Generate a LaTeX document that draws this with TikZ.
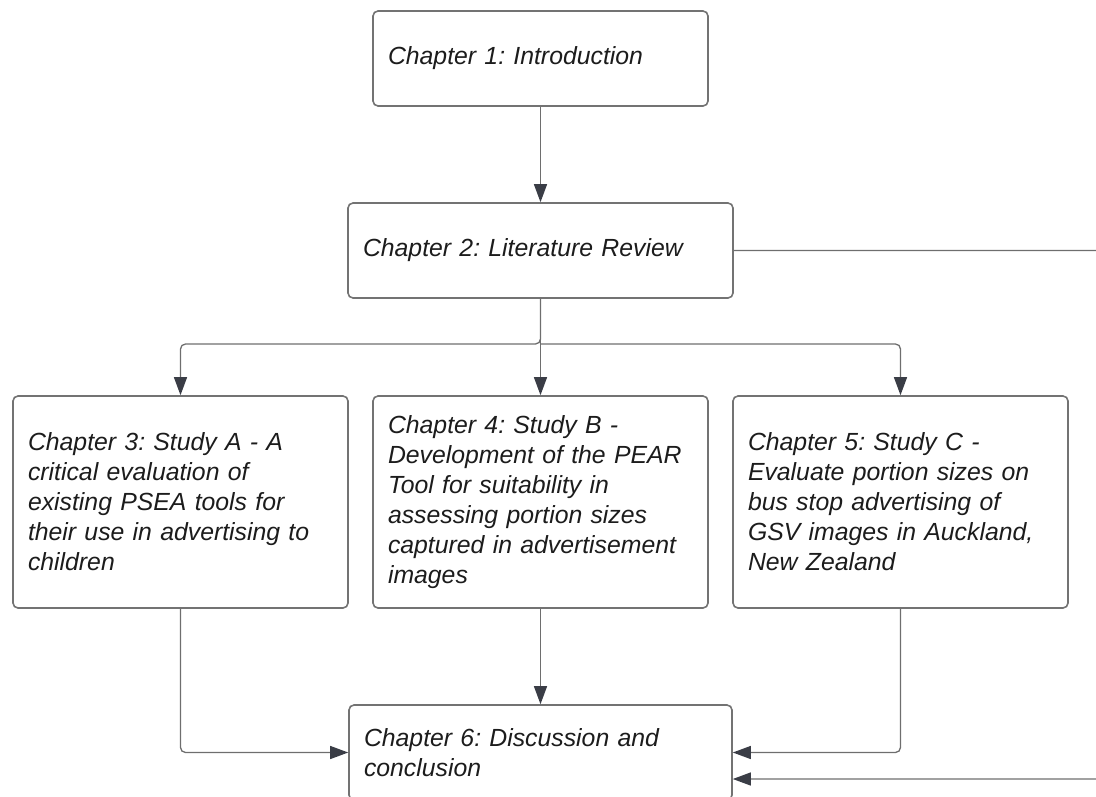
\documentclass[tikz,border=0pt]{standalone}
\usepackage{fontspec}
\setmainfont{Liberation Sans}
\usepackage{tikz}
\usetikzlibrary{arrows.meta,calc}

\definecolor{boxline}{HTML}{737373}
\definecolor{linkline}{HTML}{6E6E6E}
\definecolor{tipdark}{HTML}{3A3D46}
\definecolor{textdark}{HTML}{1C1C1C}

\begin{document}
\frenchspacing
\begin{tikzpicture}[x=1pt,y=-1pt,
    box/.style={draw=boxline, line width=1.6pt, rounded corners=5pt, fill=white,
        align=left, inner xsep=15pt, inner ysep=0pt, text=textdark,
        font=\fontsize{24.8}{30}\selectfont\itshape},
    link/.style={draw=linkline, line width=1.3pt, rounded corners=5pt,
        -{Triangle[length=18pt,width=13pt,color=tipdark]}}]

    % 画布
    \useasboundingbox (0,0) rectangle (1096,796);

    % 第一层
    \node[box, text width=305pt, minimum height=95pt] (intro) at (540.5,58.5)
        {Chapter 1: Introduction};
    \node[box, text width=355pt, minimum height=95pt] (litrev) at (540.5,250.5)
        {Chapter 2: Literature Review};

    % 三个研究
    \node[box, text width=305pt, minimum height=212pt] (studya) at (180.5,502)
        {Chapter 3: Study A - A\\critical evaluation of\\existing PSEA tools for\\their use in advertising to\\children};
    \node[box, text width=305pt, minimum height=212pt] (studyb) at (540.5,502)
        {Chapter 4: Study B -\\Development of the PEAR\\Tool for suitability in\\assessing portion sizes\\captured in advertisement\\images};
    \node[box, text width=305pt, minimum height=212pt] (studyc) at (900.5,502)
        {Chapter 5: Study C -\\Evaluate portion sizes on\\bus stop advertising of\\GSV images in Auckland,\\New Zealand};

    % 结论
    \node[box, text width=353pt, minimum height=95pt] (discuss) at (540.5,752.5)
        {Chapter 6: Discussion and\\conclusion};

    % 分支点
    \coordinate (split) at (540.5,344);
    \coordinate (outer) at (1120,779);

    % 连线
    \draw[link] (intro.south) -- (litrev.north);
    \draw[link] (litrev.south) -- (studyb.north);
    \draw[link] (litrev.south) -- (split) -| (studya.north);
    \draw[link] (split) -| (studyc.north);
    \draw[link] (studya.south) |- (discuss.west);
    \draw[link] (studyb.south) -- (discuss.north);
    \draw[link] (studyc.south) |- (discuss.east);
    \draw[link] (litrev.east) -| (outer) -- (outer -| discuss.east);

\end{tikzpicture}
\end{document}
